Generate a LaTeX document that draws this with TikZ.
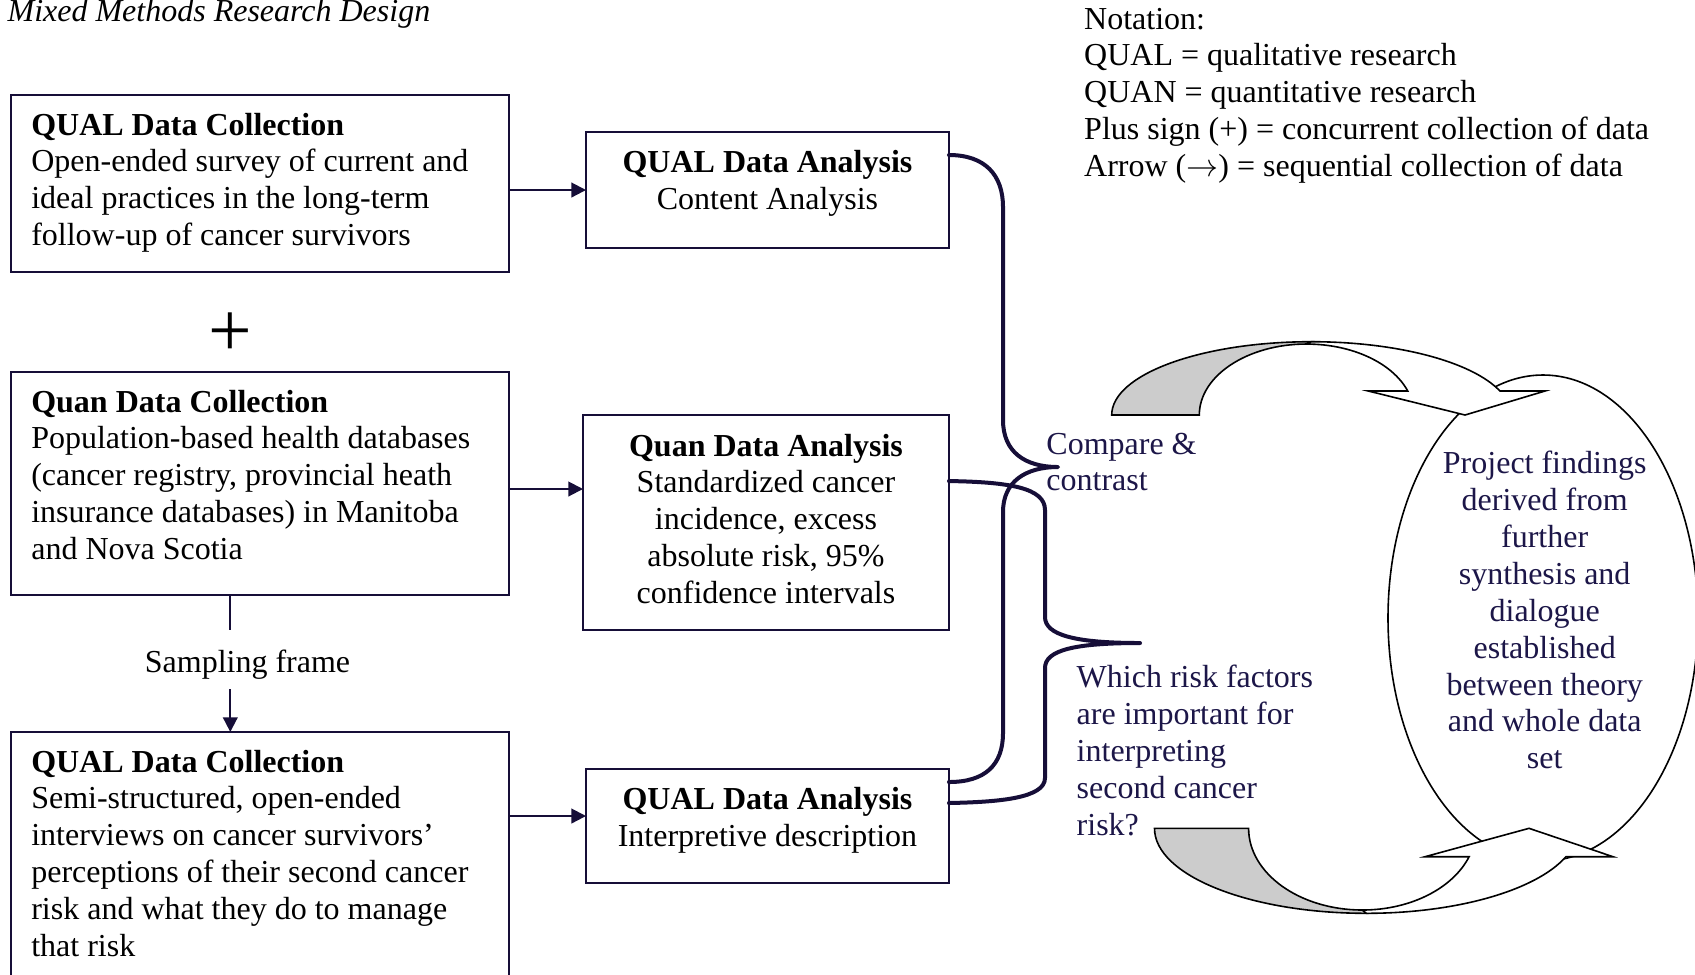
\documentclass[tikz,border=0pt]{standalone}
\usepackage{fontspec}
\setmainfont{Liberation Serif}
\usetikzlibrary{arrows.meta,calc}
\definecolor{navy}{RGB}{22,14,56}
\definecolor{txtnavy}{RGB}{28,22,72}
\definecolor{shade}{RGB}{204,204,204}
\begin{document}
\begin{tikzpicture}[x=0.375pt,y=-0.375pt,
  every node/.style={inner sep=0pt, outer sep=0pt, font=\fontsize{12}{13.85}\selectfont},
  box/.style={draw=navy, line width=0.6pt, rectangle},
  ltxt/.style={anchor=base west},
  ctxt/.style={anchor=base},
  arr/.style={draw=navy, line width=0.75pt, -{Triangle[length=5.5pt,width=5.5pt]}},
  plain/.style={draw=navy, line width=0.75pt},
  brace/.style={draw=navy, line width=1.5pt, line cap=round, line join=round},
  ribbon/.style={draw=black, line width=0.6pt, line join=miter}
]
\clip (0,0) rectangle (1695,974);
\fill[white] (0,0) rectangle (1695,974);

% title
\node[ltxt] (title) at (7.6,21) {\itshape Mixed Methods Research Design};

% notation
\node[ltxt] (notation) at (1084.2,29) {\parbox[t]{240pt}{Notation:\\QUAL = qualitative research\\QUAN = quantitative research\\Plus sign (+) = concurrent collection of data\\Arrow (\ensuremath{\rightarrow}) = sequential collection of data}};

% collection boxes
\node[box, minimum width=186.8pt, minimum height=66.4pt] (b1) at (259.9,183.5) {};
\node[box, minimum width=186.8pt, minimum height=83.6pt] (b2) at (259.9,483.5) {};
\node[box, minimum width=186.8pt, minimum height=104.3pt] (b3) at (259.9,871) {};

\node[ltxt] (t1) at (31.3,135) {\parbox[t]{180pt}{\textbf{QUAL Data Collection}\\Open-ended survey of current and\\ideal practices in the long-term\\follow-up of cancer survivors}};
\node[ltxt] (t2) at (31.3,412) {\parbox[t]{180pt}{\textbf{Quan Data Collection}\\Population-based health databases\\(cancer registry, provincial heath\\insurance databases) in Manitoba\\and Nova Scotia}};
\node[ltxt] (t3) at (31.3,772) {\parbox[t]{180pt}{\textbf{QUAL Data Collection}\\Semi-structured, open-ended\\interviews on cancer survivors'\\perceptions of their second cancer\\risk and what they do to manage\\that risk}};

% plus sign
\node[font=\fontsize{29}{31}\selectfont] (plus) at (230.8,335) {+};

% sampling frame
\node[ctxt] (sf) at (247.5,672) {Sampling frame};
\coordinate (sf1) at (230.3,630);
\coordinate (sf2) at (230.3,689);
\draw[plain] (b2.south -| sf1) -- (sf1);
\draw[arr] (sf2) -- (b3.north -| sf2);

% analysis boxes
\node[box, minimum width=136.1pt, minimum height=43.5pt] (a1) at (767.5,190) {};
\node[box, minimum width=137.25pt, minimum height=80.6pt] (a2) at (766,522.5) {};
\node[box, minimum width=136.1pt, minimum height=42.75pt] (a3) at (767.5,826) {};

\node[ctxt] (ta1) at (767.5,172.9) {\parbox[t]{140pt}{\centering\textbf{QUAL Data Analysis}\\Content Analysis}};
\node[ctxt] (ta2) at (766,456) {\parbox[t]{140pt}{\centering\textbf{Quan Data Analysis}\\Standardized cancer\\incidence, excess\\absolute risk, 95\%\\confidence intervals}};
\node[ctxt] (ta3) at (767.5,809.5) {\parbox[t]{140pt}{\centering\textbf{QUAL Data Analysis}\\Interpretive description}};

% horizontal arrows
\draw[arr] (b1.east |- a1.west) -- (a1.west);
\coordinate (a2in) at ([yshift=-2.06pt]b2.east);
\draw[arr] (a2in) -- (a2in -| a2.west);
\coordinate (a3in) at ([yshift=3.75pt]a3.west);
\draw[arr] (b3.east |- a3in) -- (a3in);

% braces
\coordinate (b1s) at ($(a1.north east)+(0,23)$);
\coordinate (b1e) at ($(a3.north east)+(0,13)$);
\coordinate (b2s) at ($(a2.north east)+(0,66)$);
\coordinate (b2e) at ($(a3.north east)+(0,34)$);
\coordinate (tip1) at (1058,467);
\coordinate (tip2) at (1140,643);

\draw[brace] (b1s) .. controls (985,155) and (1003,175) .. (1003,207)
  -- (1003,420) .. controls (1003,452) and (1025,467) .. (tip1)
  .. controls (1025,467) and (1003,482) .. (1003,512)
  -- (1003,733) .. controls (1003,765) and (985,782) .. (b1e);

\draw[brace] (b2s) .. controls (1010,482) and (1045,488) .. (1045,510)
  -- (1045,617) .. controls (1045,635) and (1075,643) .. (tip2)
  .. controls (1075,643) and (1045,650) .. (1045,668)
  -- (1045,778) .. controls (1045,798) and (1000,802) .. (b2e);

\node[ltxt, text=txtnavy] (cmp) at (1046.4,454) {\parbox[t]{80pt}{Compare \&\\contrast}};
\node[ltxt, text=txtnavy] (which) at (1076.7,687.4) {\parbox[t]{90pt}{Which risk factors\\are important for\\interpreting\\second cancer\\risk?}};

% ellipse
\draw[black, line width=0.6pt] (1543,618) ellipse [x radius=155, y radius=243];
\node[ctxt, text=txtnavy] (find) at (1544.7,473.4) {\parbox[t]{100pt}{\centering Project findings\\derived from\\further\\synthesis and\\dialogue\\established\\between theory\\and whole data\\set}};

% top curved arrow
\filldraw[ribbon, fill=shade] (1111.7,415)
  arc[start angle=180, end angle=270, x radius=199.6, y radius=73.3]
  -- (1306.7,344)
  arc[start angle=270, end angle=180, x radius=107.4, y radius=71] -- cycle;
\filldraw[ribbon, fill=white] (1311.3,341.7)
  arc[start angle=270, end angle=340.9, x radius=199.6, y radius=73.3]
  -- (1545,391) -- (1465,415) -- (1368.3,391) -- (1407.75,391)
  arc[start angle=340.2, end angle=270, x radius=107.4, y radius=71] -- cycle;

% bottom curved arrow
\filldraw[ribbon, fill=shade] (1154.5,828.3)
  arc[start angle=180, end angle=90, x radius=211.8, y radius=85]
  -- (1362.4,910)
  arc[start angle=90, end angle=180, x radius=113.8, y radius=81.7] -- cycle;
\filldraw[ribbon, fill=white] (1366.3,913.3)
  arc[start angle=90, end angle=19.5, x radius=211.8, y radius=85]
  -- (1613,856.7) -- (1529,828.3) -- (1425,856.7) -- (1469.1,856.7)
  arc[start angle=20.35, end angle=90, x radius=113.8, y radius=81.7] -- cycle;
\end{tikzpicture}
\end{document}
